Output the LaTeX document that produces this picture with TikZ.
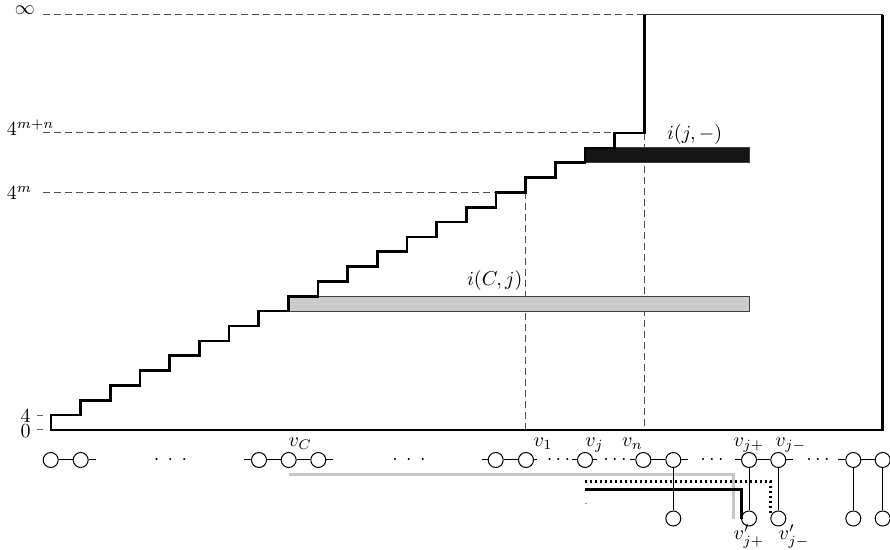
\documentclass[tikz,border=0pt]{standalone}
\begin{document}
\begin{tikzpicture}[x=0.5pt,y=-0.5pt,
  stair/.style={line width=1.3pt, line join=miter},
  guide/.style={dash pattern=on 3.5pt off 2pt, line width=0.5pt, draw=black!70},
  tick/.style={line width=0.5pt, draw=black!60},
  vert/.style={circle, draw, line width=0.5pt, minimum size=7.5pt, inner sep=0pt},
  edge/.style={line width=0.5pt},
  lbl/.style={inner sep=0pt, anchor=base west},
  lble/.style={inner sep=0pt, anchor=base east},
  dotlbl/.style={inner sep=0pt, anchor=base},
  greybar/.style={fill=black!20, draw=black!75, line width=0.4pt},
  blackbar/.style={fill=black!92, draw=black!75, line width=0.4pt},
  greypath/.style={line width=1.5pt, draw=black!22},
  dotpath/.style={line width=1.5pt, dash pattern=on 1pt off 1.5pt},
  blackpath/.style={line width=1.7pt}]
\useasboundingbox (0,0) rectangle (890,550);

% guide lines
\draw[guide] (43,15) -- (644.4,15);
\draw[guide] (43,133) -- (614.73,133);
\draw[guide] (43,192.4) -- (525.72,192.4);
\draw[guide] (525.72,192.4) -- (525.72,430);
\draw[guide] (644.4,133) -- (644.4,430);

% bars
\draw[greybar] (288.36,296.35) rectangle (749,311.2);
\draw[blackbar] (585.06,147.85) rectangle (749,162.7);

% frame and staircase
\draw[line width=0.5pt, draw=black!80] (644.4,15) -- (882.7,15);
\draw[stair] (882.7,15) -- (882.7,430) -- (51,430)
  |- (80.67,415.15) |- (110.34,400.3) |- (140.01,385.45) |- (169.68,370.6)
  |- (199.35,355.75) |- (229.02,340.9) |- (258.69,326.05) |- (288.36,311.2)
  |- (318.03,296.35) |- (347.7,281.5) |- (377.37,266.65) |- (407.04,251.8)
  |- (436.71,236.95) |- (466.38,222.1) |- (496.05,207.25) |- (525.72,192.4)
  |- (555.39,177.55) |- (585.06,162.7) |- (614.73,147.85) |- (644.4,133)
  -- (644.4,15);

% axis labels and ticks
\draw[tick] (37,415.15) -- (43,415.15);
\draw[tick] (37,430) -- (43,430);
\node[lble] (l4) at (31,422.5) {$4$};
\node[lble] (l0) at (31,438) {$0$};
\node[lbl] (linf) at (14.5,15) {$\infty$};
\node[lbl] (lmn) at (6.5,135.5) {$4^{m+n}$};
\node[lbl] (lm) at (6.5,200) {$4^{m}$};

% bar labels
\node[lbl] (ij) at (666.7,140) {$i(j,-)$};
\node[lbl] (iCj) at (466.7,285.7) {$i(C,j)$};

% highlight paths
\coordinate (gA) at (288.6,475);
\coordinate (gB) at (733.7,475);
\coordinate (gC) at (733.7,519);
\draw[greypath] (gA) -- (gB) -- (gC);
\coordinate (dA) at (585,481.7);
\coordinate (dB) at (770.5,481.7);
\coordinate (dC) at (770.5,513);
\draw[dotpath] (dA) -- (dB) -- (dC);
\coordinate (kA) at (585,489.3);
\coordinate (kB) at (741.5,489.3);
\coordinate (kC) at (741.5,519);
\draw[blackpath] (kA) -- (kB) -- (kC);
\fill[black!45] (586,503.5) circle (0.4pt);

% vertices
\node[vert] (a1) at (50.7,460) {};
\node[vert] (a2) at (80.7,460) {};
\coordinate (a2r) at (95.7,460);
\node[vert] (b1) at (259,460) {};
\node[vert] (b2) at (288.7,460) {};
\node[vert] (b3) at (318.3,460) {};
\coordinate (b1l) at (244,460);
\coordinate (b3r) at (332.7,460);
\node[vert] (c1) at (495.7,460) {};
\node[vert] (c2) at (526,460) {};
\coordinate (c1l) at (481.7,460);
\coordinate (c2r) at (537,460);
\node[vert] (d1) at (585,460) {};
\coordinate (d1l) at (571.7,460);
\coordinate (d1r) at (597,460);
\node[vert] (e1) at (643.3,460) {};
\node[vert] (e2) at (673.3,460) {};
\coordinate (e1l) at (630,460);
\coordinate (e2r) at (688,460);
\node[vert] (f1) at (749,460) {};
\node[vert] (f2) at (778.3,460) {};
\coordinate (f1l) at (735,460);
\coordinate (f2r) at (793.3,460);
\node[vert] (g1) at (853.3,460) {};
\node[vert] (g2) at (882.7,460) {};
\coordinate (g1l) at (838,460);
\node[vert] (e2b) at (673.3,518.5) {};
\node[vert] (f1b) at (749,518.5) {};
\node[vert] (f2b) at (778.3,518.5) {};
\node[vert] (g1b) at (853.3,518.5) {};
\node[vert] (g2b) at (882.7,518.5) {};

% edges
\draw[edge] (a1) -- (a2) (a2) -- (a2r);
\draw[edge] (b1l) -- (b1) (b1) -- (b2) (b2) -- (b3) (b3) -- (b3r);
\draw[edge] (c1l) -- (c1) (c1) -- (c2) (c2) -- (c2r);
\draw[edge] (d1l) -- (d1) (d1) -- (d1r);
\draw[edge] (e1l) -- (e1) (e1) -- (e2) (e2) -- (e2r);
\draw[edge] (f1l) -- (f1) (f1) -- (f2) (f2) -- (f2r);
\draw[edge] (g1l) -- (g1) (g1) -- (g2);
\draw[edge] (e2) -- (e2b) (f1) -- (f1b) (f2) -- (f2b) (g1) -- (g1b) (g2) -- (g2b);

% dots
\node[dotlbl] (dots1) at (170.5,465) {$\cdot$\hspace{4.2pt}$\cdot$\hspace{4.2pt}$\cdot$};
\node[dotlbl] (dots2) at (409,465) {$\cdot$\hspace{4.2pt}$\cdot$\hspace{4.2pt}$\cdot$};
\node[dotlbl] (dots3) at (558.5,465) {$\cdots$};
\node[dotlbl] (dots4) at (615,465) {$\cdots$};
\node[dotlbl] (dots5) at (712,465) {$\cdots$};
\node[dotlbl] (dots6) at (818,465) {$\cdots$};

% vertex labels
\node[lbl] (lvC) at (288.3,447) {$v_C$};
\node[lbl] (lv1) at (533.3,447) {$v_1$};
\node[lbl] (lvj) at (585,447) {$v_j$};
\node[lbl] (lvn) at (621.7,447) {$v_n$};
\node[lbl] (lvjp) at (733.3,447) {$v_{j+}$};
\node[lbl] (lvjm) at (775,447) {$v_{j-}$};
\node[lbl] (lvjpb) at (733.3,540) {$v'_{j+}$};
\node[lbl] (lvjmb) at (778.3,540) {$v'_{j-}$};
\end{tikzpicture}
\end{document}
